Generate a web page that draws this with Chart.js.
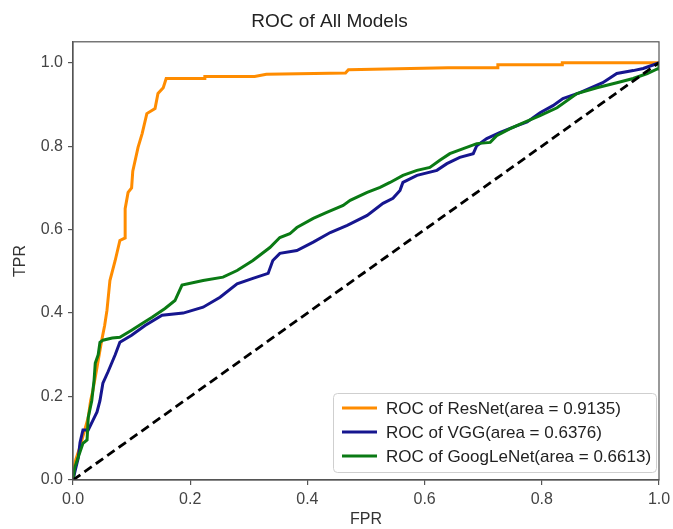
<!DOCTYPE html>
<html>
<head>
<meta charset="utf-8">
<script src="https://cdn.jsdelivr.net/npm/chart.js@4.4.1/dist/chart.umd.min.js"></script>
<style>
  html, body { margin: 0; padding: 0; background: #fff; }
  #wrap { width: 673px; height: 529px; }
</style>
</head>
<body>
<div id="wrap"><canvas id="roc" width="673" height="529"></canvas></div>
<script>
// values
var resnetFpr = [0, 0, 0.005, 0.012, 0.018, 0.026, 0.03, 0.034, 0.041, 0.049, 0.054, 0.058, 0.063, 0.072, 0.08, 0.089, 0.089, 0.094, 0.1, 0.102, 0.111, 0.118, 0.126, 0.14, 0.145, 0.154, 0.159, 0.225, 0.225, 0.31, 0.33, 0.465, 0.47, 0.64, 0.725, 0.725, 0.835, 0.835, 1.0];
var resnetTpr = [0, 0.02, 0.05, 0.08, 0.11, 0.15, 0.19, 0.215, 0.27, 0.335, 0.37, 0.407, 0.478, 0.526, 0.574, 0.58, 0.65, 0.689, 0.70, 0.74, 0.797, 0.83, 0.878, 0.89, 0.926, 0.94, 0.962, 0.962, 0.967, 0.967, 0.972, 0.975, 0.983, 0.988, 0.988, 0.995, 0.995, 1.0, 1.0];

var vggFpr = [0, 0.005, 0.009, 0.012, 0.017, 0.026, 0.034, 0.041, 0.046, 0.051, 0.06, 0.072, 0.08, 0.1, 0.123, 0.152, 0.188, 0.222, 0.251, 0.28, 0.307, 0.333, 0.341, 0.353, 0.382, 0.41, 0.439, 0.468, 0.502, 0.529, 0.546, 0.558, 0.563, 0.587, 0.621, 0.638, 0.66, 0.683, 0.689, 0.706, 0.729, 0.758, 0.775, 0.797, 0.819, 0.836, 0.865, 0.904, 0.928, 0.956, 0.973, 0.997, 1.0];
var vggTpr = [0, 0.03, 0.053, 0.09, 0.12, 0.12, 0.143, 0.163, 0.19, 0.232, 0.26, 0.30, 0.33, 0.347, 0.37, 0.395, 0.40, 0.414, 0.438, 0.47, 0.483, 0.495, 0.526, 0.543, 0.55, 0.57, 0.593, 0.61, 0.634, 0.663, 0.675, 0.694, 0.713, 0.73, 0.742, 0.758, 0.773, 0.782, 0.801, 0.818, 0.833, 0.849, 0.858, 0.880, 0.897, 0.914, 0.928, 0.952, 0.974, 0.981, 0.986, 0.998, 1.0];

var googFpr = [0, 0.003, 0.009, 0.017, 0.024, 0.026, 0.032, 0.036, 0.038, 0.043, 0.046, 0.051, 0.067, 0.08, 0.10, 0.118, 0.135, 0.157, 0.174, 0.186, 0.222, 0.256, 0.28, 0.307, 0.336, 0.353, 0.37, 0.382, 0.41, 0.433, 0.461, 0.473, 0.502, 0.524, 0.541, 0.563, 0.587, 0.609, 0.626, 0.643, 0.666, 0.689, 0.712, 0.723, 0.746, 0.768, 0.797, 0.826, 0.86, 0.894, 0.928, 0.956, 0.98, 0.997, 1.0, 1.0];
var googTpr = [0, 0.03, 0.055, 0.088, 0.096, 0.15, 0.19, 0.24, 0.28, 0.30, 0.33, 0.335, 0.34, 0.342, 0.359, 0.375, 0.39, 0.411, 0.43, 0.467, 0.478, 0.486, 0.502, 0.526, 0.557, 0.581, 0.59, 0.605, 0.627, 0.641, 0.658, 0.67, 0.689, 0.701, 0.713, 0.73, 0.742, 0.749, 0.766, 0.782, 0.794, 0.806, 0.809, 0.825, 0.842, 0.856, 0.873, 0.892, 0.926, 0.940, 0.952, 0.962, 0.974, 0.985, 0.985, 1.0];

var chanceFpr = [0, 1];
var chanceTpr = [0, 1];

var seriesNames = ["ROC of ResNet(area = 0.9135)", "ROC of VGG(area = 0.6376)", "ROC of GoogLeNet(area = 0.6613)"];
var tickValues = [0, 0.2, 0.4, 0.6, 0.8, 1.0];

var FONT = "'Liberation Sans', Arial, sans-serif";

function pts(xs, ys) {
	var out = [];
	for (var i = 0; i < xs.length; i++) out.push({x: xs[i], y: ys[i]});
	return out;
}

function setTicks(scale) {
	scale.ticks = tickValues.map(function(v) { return {value: v}; });
}

// box round the plot, like matplotlib spines
var frame = {
	id: 'frame',
	afterDatasetsDraw: function(chart) {
		var c = chart.ctx, a = chart.chartArea;
		c.save();
		c.strokeStyle = '#555';
		c.lineWidth = 1.2;
		c.strokeRect(a.left, a.top, a.right - a.left, a.bottom - a.top);
		c.restore();
	}
};

// legend in the lower right corner, inside the plot
var legendBox = {
	id: 'legendBox',
	afterDraw: function(chart) {
		var c = chart.ctx, a = chart.chartArea;
		var w = 323, h = 79;
		var x = a.right - 326, y = a.bottom - 87;
		c.save();
		c.fillStyle = 'rgba(255,255,255,0.85)';
		c.strokeStyle = '#cfcfcf';
		c.lineWidth = 1;
		c.beginPath();
		c.roundRect(x + 0.5, y + 0.5, w, h, 4);
		c.fill();
		c.stroke();
		c.font = '17px ' + FONT;
		c.textBaseline = 'middle';
		c.fillStyle = '#222';
		for (var i = 0; i < 3; i++) {
			var ds = chart.data.datasets[i];
			var ly = y + 15 + i * 24;
			c.strokeStyle = ds.borderColor;
			c.lineWidth = 3;
			c.beginPath();
			c.moveTo(x + 9, ly);
			c.lineTo(x + 44, ly);
			c.stroke();
			c.fillText(ds.label, x + 53, ly + 1);
		}
		c.restore();
	}
};

var chartdata = {
	datasets: [
		{
			label: seriesNames[0],
			data: pts(resnetFpr, resnetTpr),
			borderColor: '#ff8c00',
			borderWidth: 3,
			order: 3
		},
		{
			label: seriesNames[1],
			data: pts(vggFpr, vggTpr),
			borderColor: '#16168f',
			borderWidth: 3,
			order: 2
		},
		{
			label: seriesNames[2],
			data: pts(googFpr, googTpr),
			borderColor: '#0a7a14',
			borderWidth: 3,
			order: 1
		},
		{
			label: 'chance',
			data: pts(chanceFpr, chanceTpr),
			borderColor: '#000',
			borderWidth: 2.8,
			borderDash: [9, 5],
			order: 0
		}
	]
};

var ctx = document.getElementById('roc');

var rocChart = new Chart(ctx, {
	type: 'scatter',
	data: chartdata,
	options: {
		responsive: false,
		animation: false,
		showLine: true,
		elements: {
			point: { radius: 0, hoverRadius: 0 },
			line: { tension: 0, fill: false }
		},
		layout: { padding: { left: 0, right: 14, top: 0, bottom: 0 } },
		plugins: {
			legend: { display: false },
			tooltip: { enabled: false },
			title: {
				display: true,
				text: 'ROC of All Models',
				color: '#222',
				font: { family: FONT, size: 19, weight: 'normal' },
				padding: { top: 10, bottom: 9 }
			}
		},
		scales: {
			x: {
				type: 'linear',
				min: 0,
				max: 1,
				afterBuildTicks: setTicks,
				afterFit: function(scale) {
					scale.height = 49;
					scale.paddingLeft = 0;
					scale.paddingRight = 0;
				},
				grid: { drawOnChartArea: false, drawTicks: true, tickLength: 5, color: '#555', lineWidth: 1.2 },
				border: { display: true, color: '#555', width: 1.2 },
				ticks: {
					color: '#444',
					padding: 5,
					maxRotation: 0,
					font: { family: FONT, size: 16 },
					callback: function(v) { return v.toFixed(1); }
				},
				title: {
					display: true,
					text: 'FPR',
					color: '#333',
					font: { family: FONT, size: 16 },
					padding: { top: 0, bottom: 0 }
				}
			},
			y: {
				type: 'linear',
				min: 0,
				max: 1.05,
				afterBuildTicks: setTicks,
				afterFit: function(scale) { scale.width = 73; },
				grid: { drawOnChartArea: false, drawTicks: true, tickLength: 5, color: '#555', lineWidth: 1.2 },
				border: { display: true, color: '#555', width: 1.2 },
				ticks: {
					color: '#444',
					padding: 5,
					font: { family: FONT, size: 16 },
					callback: function(v) { return v.toFixed(1); }
				},
				title: {
					display: true,
					text: 'TPR',
					color: '#333',
					font: { family: FONT, size: 16 },
					padding: { top: 11, bottom: 0 }
				}
			}
		}
	},
	plugins: [frame, legendBox]
});
</script>
</body>
</html>
